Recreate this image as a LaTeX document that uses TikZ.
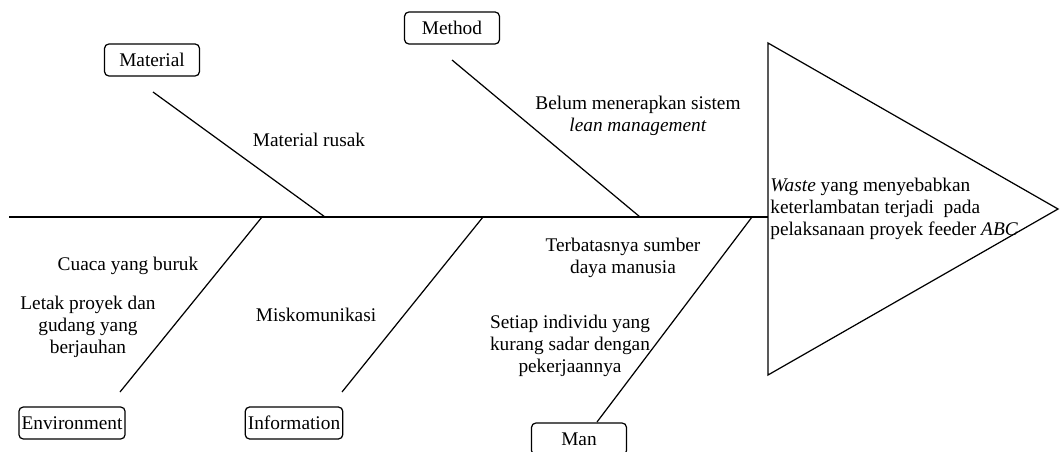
\documentclass[tikz,border=0pt]{standalone}
\usepackage{fontspec}
\setmainfont{Liberation Serif}
\usetikzlibrary{calc}

\tikzset{
  bone/.style={line width=0.7pt},
  catbox/.style={draw, line width=0.7pt, rounded corners=2.5pt, minimum width=1.9cm, minimum height=0.64cm, inner sep=1.5pt},
  cause/.style={align=center, inner sep=0pt},
}

\begin{document}
\begin{tikzpicture}[x=0.02cm, y=-0.02cm, font=\fontsize{11}{12.5}\selectfont]
	%%%%% START %%%%%
	\useasboundingbox (0,0) rectangle (1060,452);

	% spine and head
	\coordinate (tail) at (9,217);
	\coordinate (head) at (768,217);
	\draw[bone] (tail) -- (head);

	\coordinate (headtop) at (768,43);
	\coordinate (headtip) at (1058,209);
	\coordinate (headbot) at (768,375);
	\draw[bone] (headtop) -- (headtip) -- (headbot) -- cycle;
	\node[anchor=west, align=left, inner sep=0pt] (effect) at (770,209)
		{\textit{Waste} yang menyebabkan\\keterlambatan terjadi\ \ pada\\pelaksanaan proyek feeder \textit{ABC}};

	% upper bones
	\node[catbox] (material) at (152,60) {Material};
	\node[catbox] (method) at (452,28) {Method};

	\coordinate (materialstart) at (153,92);
	\coordinate (materialend) at (325,217);
	\draw[bone] (materialstart) -- (materialend);

	\coordinate (methodstart) at (452,60);
	\coordinate (methodend) at (640,217);
	\draw[bone] (methodstart) -- (methodend);

	\node[cause] (rusak) at (309,140) {Material rusak};
	\node[cause] (lean) at (638,116) {Belum menerapkan sistem\\\textit{lean management}};

	% lower bones
	\node[catbox] (environment) at (72,423) {Environment};
	\node[catbox] (information) at (294,423) {Information};
	\node[catbox] (man) at (579,439) {Man};

	\coordinate (envstart) at (262,217);
	\coordinate (envend) at (120,392);
	\draw[bone] (envstart) -- (envend);

	\coordinate (infostart) at (483,217);
	\coordinate (infoend) at (342,392);
	\draw[bone] (infostart) -- (infoend);

	\coordinate (manstart) at (752,217);
	\coordinate (manend) at (597,422);
	\draw[bone] (manstart) -- (manend);

	\node[cause] (cuaca) at (128,266) {Cuaca yang buruk};
	\node[cause] (letak) at (88,327) {Letak proyek dan\\gudang yang\\berjauhan};
	\node[cause] (miskom) at (316,315) {Miskomunikasi};
	\node[cause] (sdm) at (623,258) {Terbatasnya sumber\\daya manusia};
	\node[cause] (sadar) at (570,346) {Setiap individu yang\\kurang sadar dengan\\pekerjaannya};
	%%%%% END %%%%%
\end{tikzpicture}
\end{document}
